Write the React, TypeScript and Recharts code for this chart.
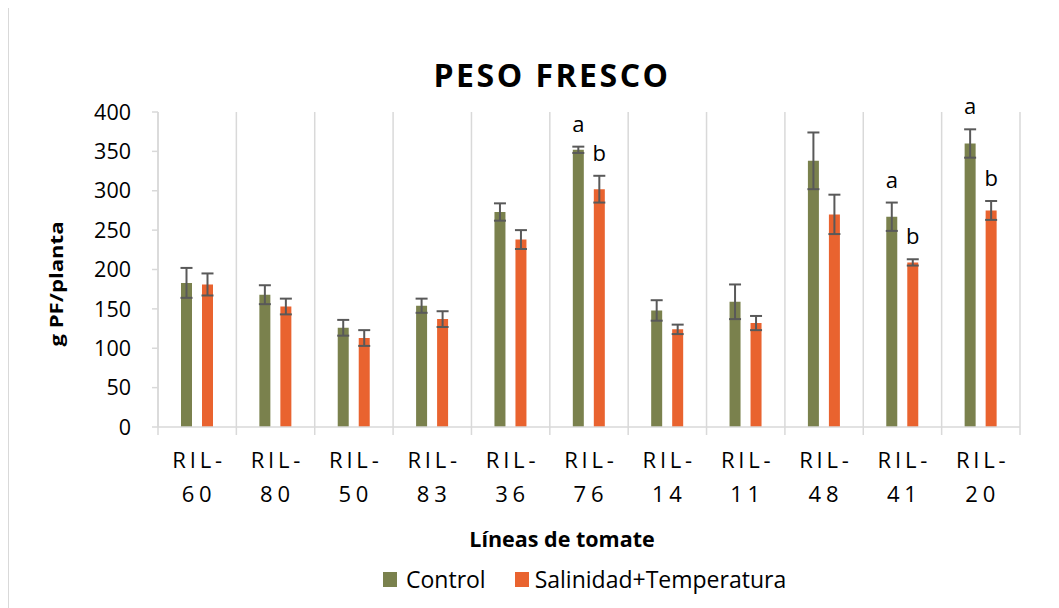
import React from 'react';
import { ComposedChart, Bar, XAxis, YAxis, CartesianGrid, ErrorBar, LabelList, Legend, Label } from 'recharts';

const categories = ['RIL-60', 'RIL-80', 'RIL-50', 'RIL-83', 'RIL-36', 'RIL-76', 'RIL-14', 'RIL-11', 'RIL-48', 'RIL-41', 'RIL-20'];
const controlValues = [183, 168, 126, 154, 273, 352, 148, 159, 338, 267, 360];
const saltValues = [181, 153, 113, 137, 238, 302, 124, 132, 270, 209, 275];
const controlErrors = [19, 12, 10, 9, 11, 4, 13, 22, 36, 18, 18];
const saltErrors = [14, 10, 10, 10, 12, 17, 6, 9, 25, 4, 12];
const controlLetters = ['', '', '', '', '', 'a', '', '', '', 'a', 'a'];
const saltLetters = ['', '', '', '', '', 'b', '', '', '', 'b', 'b'];
const yTicks = [0, 50, 100, 150, 200, 250, 300, 350, 400];

const CONTROL_COLOR = '#7a814d';
const SALT_COLOR = '#e9632f';
const GRID_COLOR = '#d9d9d9';
const FONT = '"Open Sans", sans-serif';

const data = categories.map((name, i) => ({
  name,
  control: controlValues[i],
  salt: saltValues[i],
  controlErr: controlErrors[i],
  saltErr: saltErrors[i],
}));

const XTick = (props: any) => {
  const { x, y, payload, index, visibleTicksCount, width } = props;
  const half = payload && payload.offset ? payload.offset : (width || 862) / (visibleTicksCount || 11) / 2;
  const parts = String(payload.value).split('-');
  const ls = 3.8;
  return (
    <g>
      <line x1={x - half} y1={y} x2={x - half} y2={y + 8} stroke={GRID_COLOR} strokeWidth={1.5} />
      {index === (visibleTicksCount || 11) - 1 && (
        <line x1={x + half} y1={y} x2={x + half} y2={y + 8} stroke={GRID_COLOR} strokeWidth={1.5} />
      )}
      <text x={x + ls / 2} y={y + 41} textAnchor="middle" fontSize={22} fill="#000" fontFamily={FONT} letterSpacing={ls}>
        {parts[0] + '-'}
      </text>
      <text x={x + ls / 2} y={y + 75} textAnchor="middle" fontSize={22} fill="#000" fontFamily={FONT} letterSpacing={ls + 1}>
        {parts[1]}
      </text>
    </g>
  );
};

const makeLetter = (letters: string[], errors: number[]) => (props: any) => {
  const { x, y, width, height, value, index } = props;
  const letter = letters[index];
  if (!letter) return null;
  const pxPerUnit = value ? height / value : 0;
  const errTop = y - errors[index] * pxPerUnit;
  return (
    <text x={x + width / 2} y={errTop - 15} textAnchor="middle" fontSize={22} fill="#000" fontFamily={FONT}>
      {letter}
    </text>
  );
};

const renderLegend = () => (
  <div style={{ display: 'flex', alignItems: 'center', height: 30, paddingLeft: 374, fontFamily: FONT, fontSize: 23, color: '#000' }}>
    <span style={{ display: 'inline-block', width: 14, height: 15, background: CONTROL_COLOR, marginRight: 9 }} />
    <span style={{ marginRight: 29 }}>Control</span>
    <span style={{ display: 'inline-block', width: 14, height: 15, background: SALT_COLOR, marginRight: 6 }} />
    <span>Salinidad+Temperatura</span>
  </div>
);

const renderYLabel = () => (
  <text
    x={47.5}
    y={276}
    transform="rotate(-90, 47.5, 276)"
    textAnchor="middle"
    dominantBaseline="central"
    fontSize={17}
    fontWeight={700}
    fontFamily={FONT}
    fill="#000"
    textLength={125}
    lengthAdjust="spacingAndGlyphs"
  >
    g PF/planta
  </text>
);

const renderXLabel = () => (
  <text x={553} y={539} textAnchor="middle" fontSize={21.5} fontWeight={700} fontFamily={FONT} fill="#000">
    Líneas de tomate
  </text>
);

export default function App() {
  const n = categories.length;
  return (
    <div
      style={{
        position: 'relative',
        width: 1050,
        height: 600,
        marginTop: -1,
        borderTop: `1px solid ${GRID_COLOR}`,
        borderLeft: `1px solid ${GRID_COLOR}`,
        fontFamily: FONT,
        background: '#fff',
      }}
    >
      <div
        style={{
          position: 'absolute',
          left: 240.5,
          top: 50.5,
          width: 600,
          paddingLeft: 2.5,
          textAlign: 'center',
          fontSize: 32,
          lineHeight: '32px',
          fontWeight: 700,
          letterSpacing: 2.5,
          color: '#000',
          zIndex: 2,
        }}
      >
        PESO FRESCO
      </div>
      <ComposedChart
        width={1050}
        height={600}
        data={data}
        margin={{ top: 104, right: 39, bottom: 0, left: 0 }}
        barGap={10}
      >
        <CartesianGrid
          horizontal={false}
          vertical={true}
          stroke={GRID_COLOR}
          strokeWidth={1.5}
          verticalCoordinatesGenerator={({ offset }: any) =>
            Array.from({ length: n + 1 }, (_, i) => offset.left + (i * offset.width) / n)
          }
        />
        <XAxis
          dataKey="name"
          height={181}
          interval={0}
          tickSize={0}
          tickMargin={0}
          tickLine={false}
          axisLine={{ stroke: GRID_COLOR, strokeWidth: 1.5 }}
          tick={<XTick />}
        >
          <Label content={renderXLabel} />
        </XAxis>
        <YAxis
          width={149}
          domain={[0, 400]}
          ticks={yTicks}
          interval={0}
          tickSize={6}
          tickMargin={21}
          tick={{ fontSize: 21.5, fill: '#000', fontFamily: FONT }}
          tickLine={{ stroke: GRID_COLOR, strokeWidth: 1.5 }}
          axisLine={{ stroke: GRID_COLOR, strokeWidth: 1.5 }}
        >
          <Label content={renderYLabel} />
        </YAxis>
        <Legend
          layout="horizontal"
          verticalAlign="middle"
          align="center"
          wrapperStyle={{ top: 556, left: 0, width: 1050, height: 30 }}
          content={renderLegend}
        />
        <Bar dataKey="control" name="Control" fill={CONTROL_COLOR} barSize={11} isAnimationActive={false}>
          <ErrorBar dataKey="controlErr" direction="y" width={6} stroke="#595959" strokeWidth={2} />
          <LabelList dataKey="control" content={makeLetter(controlLetters, controlErrors)} />
        </Bar>
        <Bar dataKey="salt" name="Salinidad+Temperatura" fill={SALT_COLOR} barSize={11} isAnimationActive={false}>
          <ErrorBar dataKey="saltErr" direction="y" width={6} stroke="#595959" strokeWidth={2} />
          <LabelList dataKey="salt" content={makeLetter(saltLetters, saltErrors)} />
        </Bar>
      </ComposedChart>
    </div>
  );
}
